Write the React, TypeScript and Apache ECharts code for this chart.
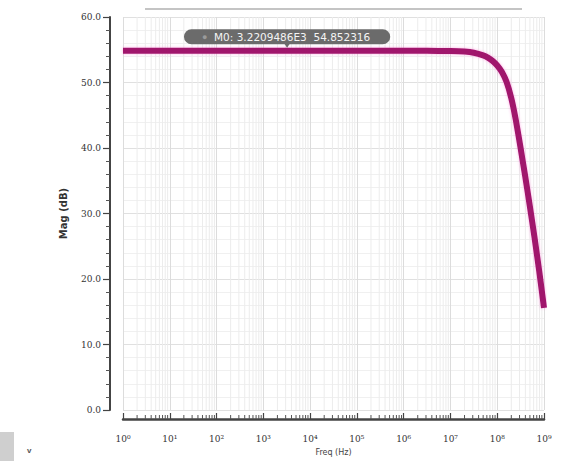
import React, { useEffect, useRef } from "react";
import * as echarts from "echarts";

// Frequency response (Hz) and magnitude (dB)
const freqHz = [
  1, 10, 100, 1e3, 1e4, 1e5, 1e6, 3.16e6, 1e7, 2.0e7, 3.16e7, 5.01e7, 6.31e7, 7.94e7,
  1e8, 1.26e8, 1.58e8, 2.0e8, 2.51e8, 3.16e8, 3.98e8, 5.01e8, 6.31e8, 7.94e8, 1e9,
];
const magDb = [
  54.85, 54.85, 54.85, 54.85, 54.85, 54.85, 54.85, 54.84, 54.8, 54.72, 54.55, 54.15,
  53.8, 53.3, 52.6, 51.6, 50.1, 47.6, 44.2, 40.0, 35.6, 31.0, 26.2, 21.1, 15.6,
];

// Marker annotation
const markerFreq = 3220.9486;
const markerMag = 54.8523;
const markerText = "M0: 3.2209486E3  54.852316";

// Axis ticks
const decades = [1, 10, 100, 1e3, 1e4, 1e5, 1e6, 1e7, 1e8];
const minorMultipliers = [2, 3, 4, 5, 6, 7, 8, 9];
const supDigits = ["⁰", "¹", "²", "³", "⁴", "⁵", "⁶", "⁷", "⁸", "⁹"];

const minorFreqs: number[] = [];
decades.forEach((d) => minorMultipliers.forEach((m) => minorFreqs.push(d * m)));

export default function App() {
  const ref = useRef<HTMLDivElement>(null);
  useEffect(() => {
    if (!ref.current) return;
    const chart = echarts.init(ref.current, undefined, { renderer: "svg" });
    const X_OFF = 9;
    chart.setOption({
      animation: false,
      backgroundColor: "#ffffff",
      grid: { left: 123, right: 30, top: 17, bottom: 47 },
      xAxis: {
        type: "log",
        logBase: 10,
        min: 1,
        max: 1e9,
        interval: 1,
        offset: X_OFF,
        name: "Freq (Hz)",
        nameLocation: "middle",
        nameGap: 29,
        nameTextStyle: { fontSize: 8, color: "#444", fontFamily: "DejaVu Sans" },
        axisLine: { show: true, onZero: false, lineStyle: { color: "#444", width: 2.5 } },
        axisTick: { show: true, inside: true, length: 6, lineStyle: { color: "#444", width: 1.2 } },
        axisLabel: {
          margin: 15,
          fontSize: 9,
          color: "#333",
          fontFamily: "DejaVu Serif",
          formatter: (v: number) => {
            const e = Math.round(Math.log10(v));
            return "10" + String(e).split("").map((c) => supDigits[+c]).join("");
          },
        },
        splitLine: { show: true, lineStyle: { color: "#dcdcdc", width: 1 } },
      },
      yAxis: {
        type: "value",
        min: 0,
        max: 60,
        interval: 10,
        offset: 13,
        name: "Mag (dB)",
        nameLocation: "middle",
        nameGap: 42,
        nameTextStyle: { fontSize: 10, color: "#333", fontWeight: "bold", fontFamily: "DejaVu Sans" },
        axisLine: { show: true, onZero: false, lineStyle: { color: "#444", width: 2 } },
        axisTick: { show: true, length: 7, lineStyle: { color: "#444", width: 1.2 } },
        minorTick: { show: true, splitNumber: 5, length: 4, lineStyle: { color: "#555", width: 1 } },
        axisLabel: {
          margin: 9,
          fontSize: 9,
          color: "#333",
          fontFamily: "DejaVu Serif",
          formatter: (v: number) => v.toFixed(1),
        },
        splitLine: { show: true, lineStyle: { color: "#e0e0e0", width: 1 } },
        minorSplitLine: { show: true, lineStyle: { color: "#f0f0f0", width: 1 } },
      },
      series: [
        {
          type: "custom",
          z: 1,
          silent: true,
          clip: false,
          data: minorFreqs.map((f) => [f]),
          renderItem: (params: any, api: any) => {
            const f = api.value(0);
            const top = api.coord([f, 60]);
            const bot = api.coord([f, 0]);
            const yAxisLine = bot[1] + X_OFF;
            return {
              type: "group",
              children: [
                {
                  type: "line",
                  shape: { x1: top[0], y1: top[1], x2: bot[0], y2: bot[1] },
                  style: { stroke: "#ececec", lineWidth: 1 },
                },
                {
                  type: "line",
                  shape: { x1: bot[0], y1: yAxisLine, x2: bot[0], y2: yAxisLine - 4 },
                  style: { stroke: "#555", lineWidth: 1 },
                },
              ],
            };
          },
        },
        {
          type: "line",
          z: 3,
          data: freqHz.map((f, i) => [f, magDb[i]]),
          showSymbol: false,
          smooth: 0.15,
          lineStyle: {
            color: "#a0156c",
            width: 6,
            shadowColor: "rgba(255,80,200,0.45)",
            shadowBlur: 3,
          },
          markPoint: {
            silent: true,
            data: [
              {
                coord: [markerFreq, markerMag],
                symbol: "triangle",
                symbolRotate: 180,
                symbolSize: [8, 6],
                symbolOffset: [0, -6],
                itemStyle: { color: "#6b6b6b" },
                label: { show: false },
              },
              {
                coord: [markerFreq, markerMag],
                symbol: "circle",
                symbolSize: 0,
                label: {
                  show: true,
                  offset: [0, -14],
                  formatter: "{i|●}  {t|" + markerText + "}",
                  backgroundColor: "#6b6b6b",
                  borderRadius: 8,
                  padding: [2, 20, 1, 18],
                  rich: {
                    i: { color: "#9a9a9a", fontSize: 9 },
                    t: { color: "#f4f4f4", fontSize: 10.5, fontFamily: "DejaVu Sans" },
                  },
                },
              },
            ],
          },
        },
      ],
      graphic: [
        {
          type: "line",
          shape: { x1: 145, y1: 9, x2: 522, y2: 9 },
          style: { stroke: "#c4c4c4", lineWidth: 2 },
        },
        {
          type: "rect",
          shape: { x: 0, y: 432, width: 14, height: 29 },
          style: { fill: "#cfcfcf" },
        },
        {
          type: "text",
          x: 27,
          y: 446,
          style: { text: "v", fontSize: 8, fontWeight: "bold", fill: "#555" },
        },
      ],
    });
    return () => chart.dispose();
  }, []);
  return <div ref={ref} style={{ width: 574, height: 461, position: "absolute", left: 0, top: 0 }} />;
}
